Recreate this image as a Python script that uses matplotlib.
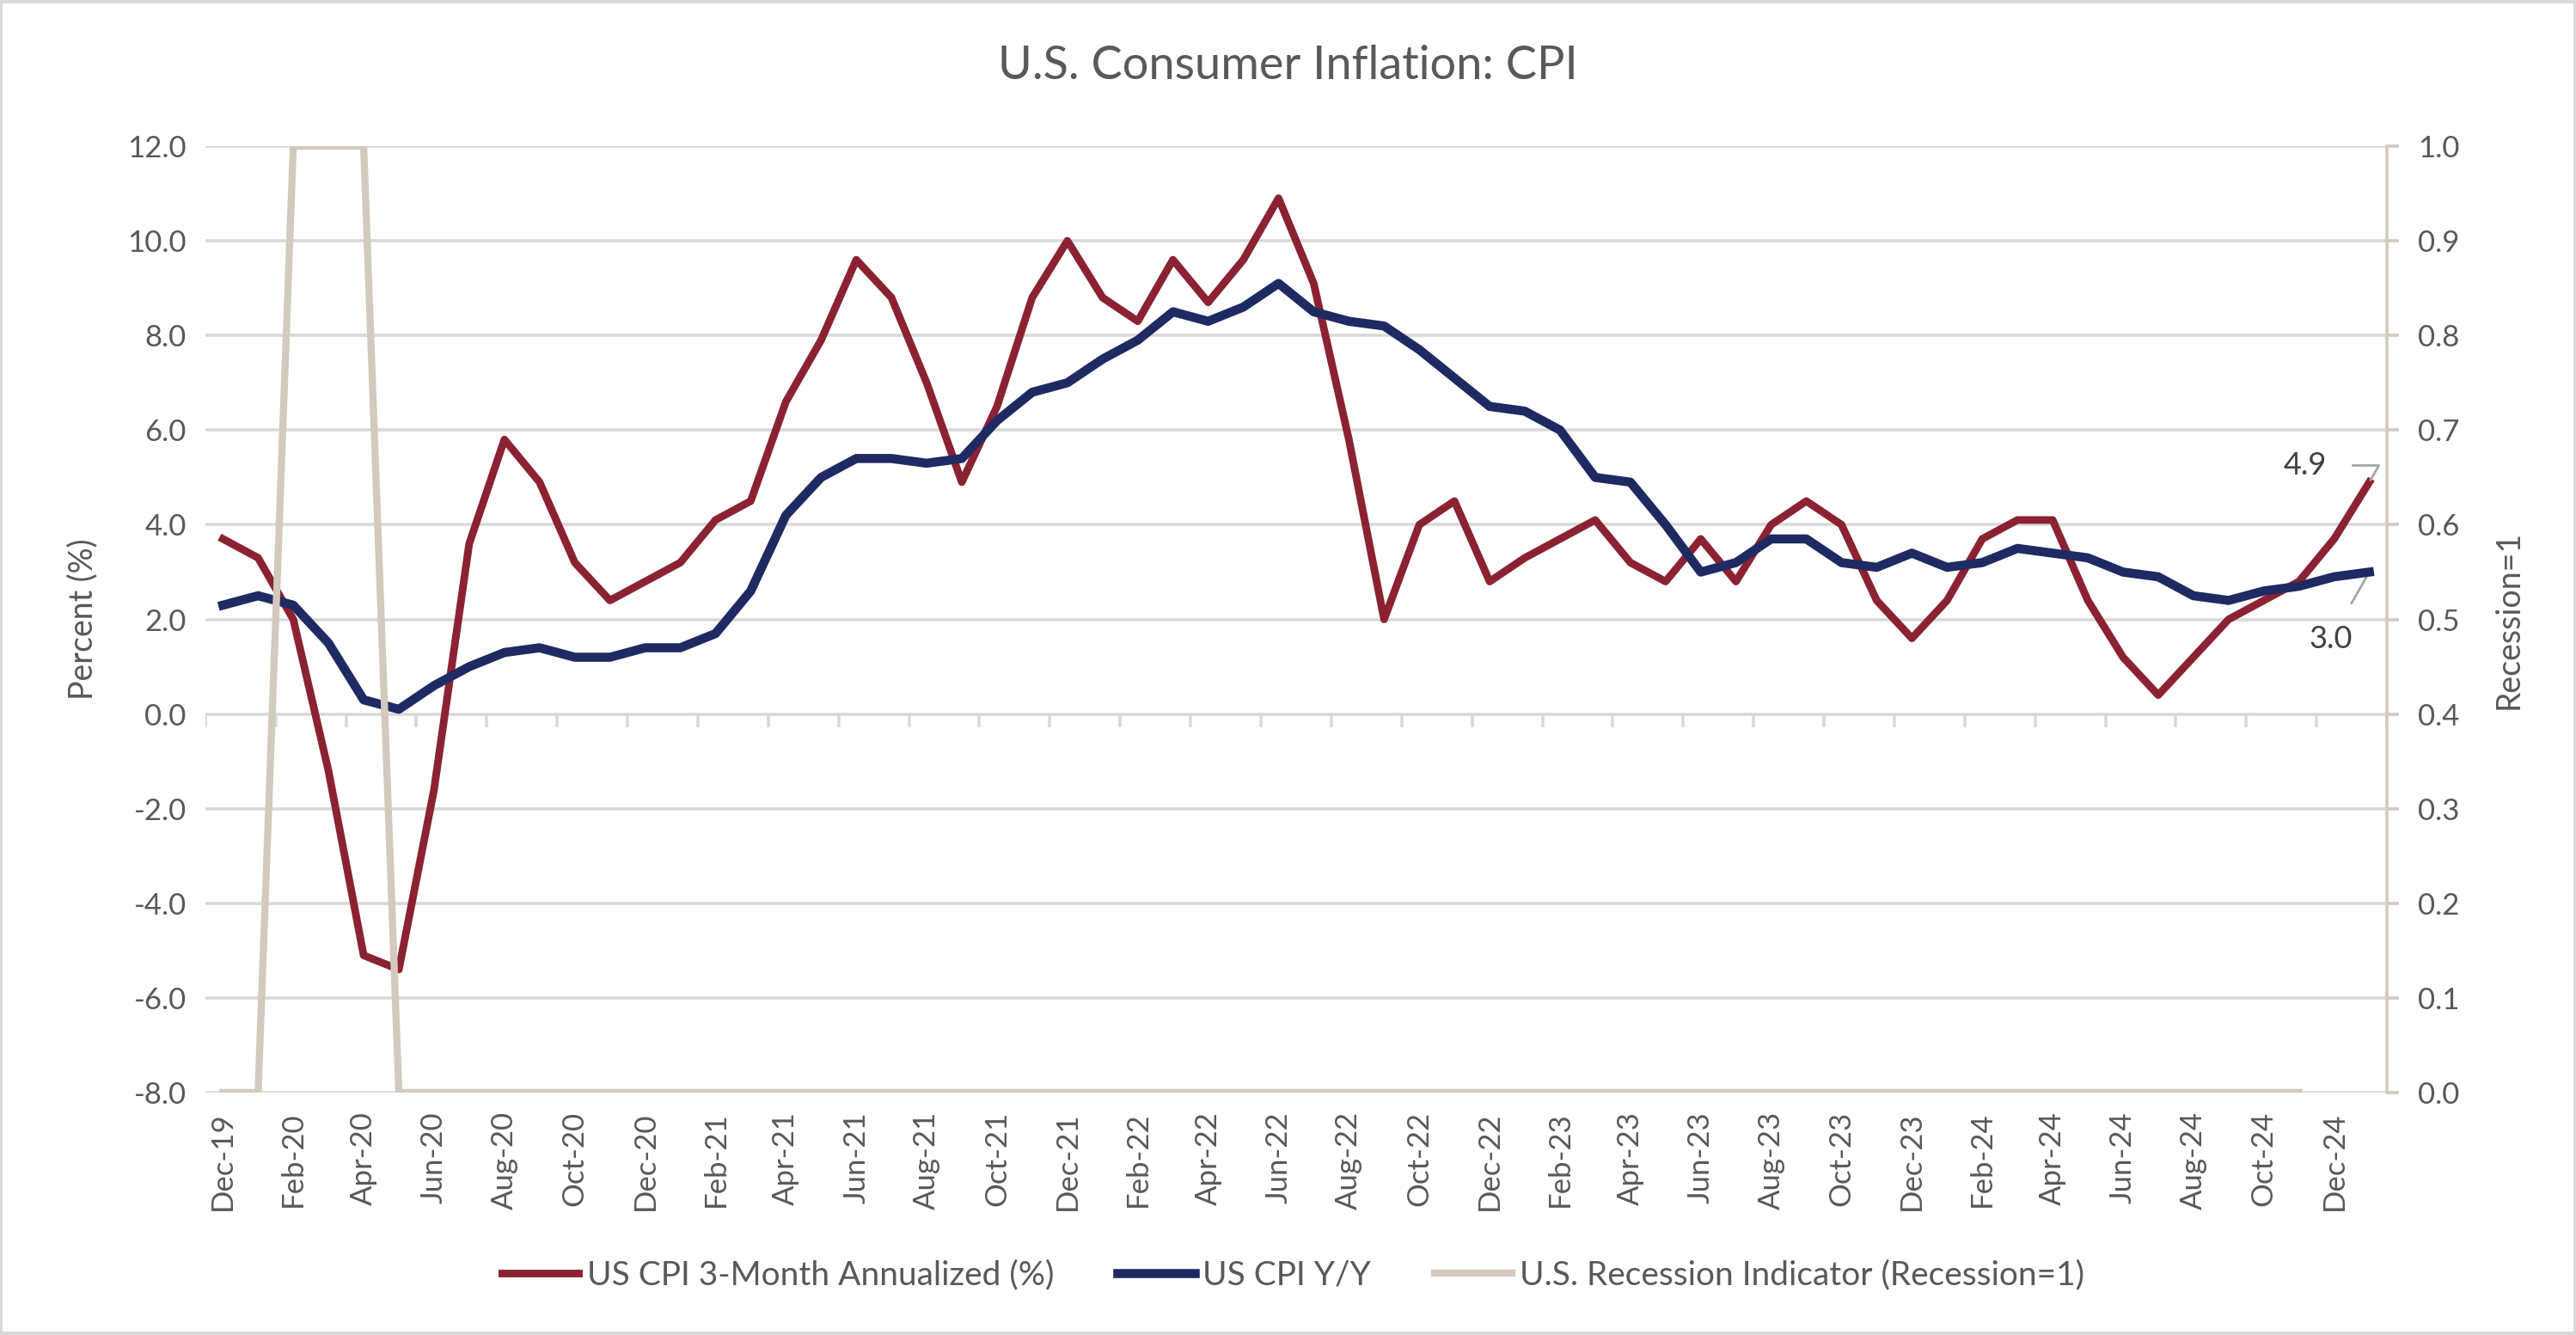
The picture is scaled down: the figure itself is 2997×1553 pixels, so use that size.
import numpy as np
import matplotlib
matplotlib.use('Agg')
import matplotlib.pyplot as plt
from matplotlib.patches import Rectangle

plt.rcParams['font.family'] = ['Lato', 'DejaVu Sans']

####################################################################################################
# data

months = ['Dec-19', 'Jan-20', 'Feb-20', 'Mar-20', 'Apr-20', 'May-20', 'Jun-20', 'Jul-20', 'Aug-20',
          'Sep-20', 'Oct-20', 'Nov-20', 'Dec-20', 'Jan-21', 'Feb-21', 'Mar-21', 'Apr-21', 'May-21',
          'Jun-21', 'Jul-21', 'Aug-21', 'Sep-21', 'Oct-21', 'Nov-21', 'Dec-21', 'Jan-22', 'Feb-22',
          'Mar-22', 'Apr-22', 'May-22', 'Jun-22', 'Jul-22', 'Aug-22', 'Sep-22', 'Oct-22', 'Nov-22',
          'Dec-22', 'Jan-23', 'Feb-23', 'Mar-23', 'Apr-23', 'May-23', 'Jun-23', 'Jul-23', 'Aug-23',
          'Sep-23', 'Oct-23', 'Nov-23', 'Dec-23', 'Jan-24', 'Feb-24', 'Mar-24', 'Apr-24', 'May-24',
          'Jun-24', 'Jul-24', 'Aug-24', 'Sep-24', 'Oct-24', 'Nov-24', 'Dec-24', 'Jan-25']

cpi_3m_ann = [3.7, 3.3, 2.0, -1.2, -5.1, -5.4, -1.6, 3.6, 5.8, 4.9, 3.2, 2.4, 2.8, 3.2, 4.1, 4.5,
              6.6, 7.9, 9.6, 8.8, 7.0, 4.9, 6.5, 8.8, 10.0, 8.8, 8.3, 9.6, 8.7, 9.6, 10.9, 9.1,
              5.8, 2.0, 4.0, 4.5, 2.8, 3.3, 3.7, 4.1, 3.2, 2.8, 3.7, 2.8, 4.0, 4.5, 4.0, 2.4,
              1.6, 2.4, 3.7, 4.1, 4.1, 2.4, 1.2, 0.4, 1.2, 2.0, 2.4, 2.8, 3.7, 4.9]

cpi_yoy = [2.3, 2.5, 2.3, 1.5, 0.3, 0.1, 0.6, 1.0, 1.3, 1.4, 1.2, 1.2, 1.4, 1.4, 1.7, 2.6,
           4.2, 5.0, 5.4, 5.4, 5.3, 5.4, 6.2, 6.8, 7.0, 7.5, 7.9, 8.5, 8.3, 8.6, 9.1, 8.5,
           8.3, 8.2, 7.7, 7.1, 6.5, 6.4, 6.0, 5.0, 4.9, 4.0, 3.0, 3.2, 3.7, 3.7, 3.2, 3.1,
           3.4, 3.1, 3.2, 3.5, 3.4, 3.3, 3.0, 2.9, 2.5, 2.4, 2.6, 2.7, 2.9, 3.0]

# recession indicator runs Dec-19 .. Nov-24
recession = [0, 0, 1, 1, 1] + [0] * 55

####################################################################################################

RED = '#8B2232'
NAVY = '#1F2A63'
TAN = '#D3CABD'
GRID = '#D9D9D9'
TEXT = '#595959'

x = np.arange(len(months))

fig = plt.figure(figsize=(14.985, 7.765), dpi=200)
ax = fig.add_axes([0.0797, 0.1816, 0.9266 - 0.0797, 0.8905 - 0.1816])
ax2 = ax.twinx()

line1, = ax.plot(x, cpi_3m_ann, color=RED, lw=3.2, solid_joinstyle='round', zorder=3)
line2, = ax.plot(x, cpi_yoy, color=NAVY, lw=3.8, solid_joinstyle='round', zorder=4)
line3, = ax2.plot(x[:len(recession)], recession, color=TAN, lw=3.0, solid_joinstyle='miter', zorder=2)

# left axis
ax.set_xlim(-0.5, len(months) - 0.5)
ax.set_ylim(-8, 12)
ax.set_yticks(np.arange(-8, 12.1, 2))
ax.set_yticklabels(['{:.1f}'.format(v) for v in np.arange(-8, 12.1, 2)])
ax.yaxis.grid(True, color=GRID, lw=1.3)
ax.set_axisbelow(True)
for side in ('top', 'right', 'left', 'bottom'):
    ax.spines[side].set_visible(False)
ax.tick_params(axis='y', length=0, labelsize=12.5, labelcolor=TEXT, pad=8)
ax.set_ylabel('Percent (%)', fontsize=13.5, color=TEXT, labelpad=12)

# category axis: labels every 2 months at the bottom, tick marks on the zero line
ax.set_xticks(x[::2])
ax.set_xticklabels(months[::2], rotation=90)
ax.tick_params(axis='x', length=0, labelsize=12.5, labelcolor=TEXT, pad=8)
bounds = np.arange(-0.5, len(months), 2)
ax.vlines(bounds, -0.28, 0, color=GRID, lw=1.3, zorder=1)

# right axis
ax2.set_ylim(0, 1)
ax2.set_yticks(np.arange(0, 1.01, 0.1))
ax2.set_yticklabels(['{:.1f}'.format(v) for v in np.arange(0, 1.01, 0.1)])
for side in ('top', 'left', 'bottom'):
    ax2.spines[side].set_visible(False)
ax2.spines['right'].set_color(TAN)
ax2.spines['right'].set_linewidth(1.3)
ax2.tick_params(axis='y', length=5, width=1.3, color=TAN, labelsize=12.5, labelcolor=TEXT, pad=8)
ax2.set_ylabel('Recession=1', fontsize=13.5, color=TEXT, labelpad=14)

# data labels on last points
ax.annotate('{:.1f}'.format(cpi_3m_ann[-1]), xy=(x[-1], cpi_3m_ann[-1]), xytext=(-27, 7),
            textcoords='offset points', ha='center', va='center', fontsize=13, color='#404040',
            arrowprops=dict(arrowstyle='-', color='#A6A6A6', lw=1.0, shrinkA=9, shrinkB=1,
                            connectionstyle='angle,angleA=0,angleB=60,rad=0'))
ax.annotate('{:.1f}'.format(cpi_yoy[-1]), xy=(x[-1], cpi_yoy[-1]), xytext=(-16, -28),
            textcoords='offset points', ha='center', va='center', fontsize=13, color='#404040',
            arrowprops=dict(arrowstyle='-', color='#A6A6A6', lw=1.0, shrinkA=8, shrinkB=1))

fig.suptitle('U.S. Consumer Inflation: CPI', fontsize=19.5, color=TEXT, y=0.951, va='center')

fig.legend([line1, line2, line3],
           ['US CPI 3-Month Annualized (%)', 'US CPI Y/Y', 'U.S. Recession Indicator (Recession=1)'],
           loc='center', bbox_to_anchor=(0.502, 0.045), ncol=3, frameon=False, fontsize=14,
           labelcolor=TEXT, handlelength=2.3, handletextpad=0.25, columnspacing=1.9)

# chart border
fig.patches.append(Rectangle((0.0005, 0.001), 0.999, 0.998, transform=fig.transFigure,
                             fill=False, edgecolor=GRID, lw=1.5))

fig.savefig('out.png', dpi=200)
